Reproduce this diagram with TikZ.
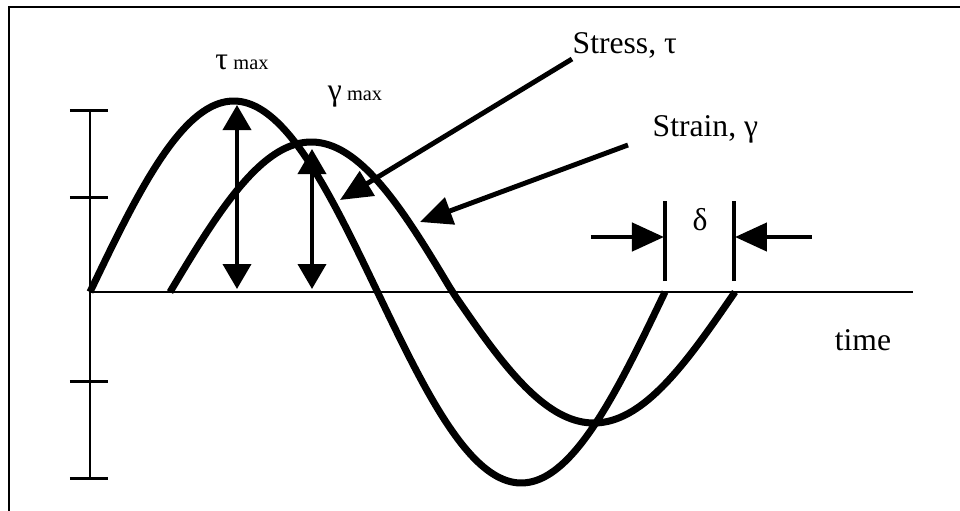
\documentclass[tikz,border=0pt]{standalone}
\usepackage{fontspec}
\setmainfont{Liberation Serif}
\usetikzlibrary{arrows.meta}
\begin{document}
\begin{tikzpicture}[
  axis/.style={draw=black,line width=0.7pt},
  wave/.style={draw=black,line width=2pt,line join=round},
  bar/.style={draw=black,line width=1.3pt},
  pointer/.style={draw=black,line width=1.4pt,-{Triangle[length=0.32cm,width=0.28cm]}},
  twoway/.style={draw=black,line width=1.1pt,{Triangle[length=0.25cm,width=0.28cm]}-{Triangle[length=0.25cm,width=0.28cm]}},
  label/.style={font=\fontsize{9}{11}\selectfont,inner sep=0pt},
]
\useasboundingbox (-0.9,-2.18) rectangle (8.7,2.92);
\draw[axis] (-0.81,-2.3)--(-0.81,2.85)--(8.8,2.85);
\draw[axis] (0,-1.86)--(0,1.82);
\foreach \y in {1.82,0.95,-0.89,-1.86}{\draw[axis,line width=0.85pt] (-0.2,\y)--(0.18,\y);}
\draw[axis] (0,0)--(8.23,0);
\draw[wave] plot[domain=0:360,samples=90,smooth] ({5.75*\x/360},{1.91*sin(\x)});
\draw[wave] plot[domain=0:360,samples=90,smooth] ({0.8+5.65*\x/360},{sin(\x)*(sin(\x)>0?1.5:1.31)});
\coordinate (taupeak) at (1.47,1.87);
\coordinate (taubase) at (1.47,0.03);
\coordinate (gampeak) at (2.22,1.43);
\coordinate (gambase) at (2.22,0.03);
\draw[twoway] (taubase)--(taupeak);
\draw[twoway] (gambase)--(gampeak);
\node[label] (taumax) at (1.52,2.30) {τ\,{\fontsize{5.8}{7}\selectfont max}};
\node[label] (gammax) at (2.65,1.95) {γ\,{\fontsize{5.8}{7}\selectfont max}};
\node[label,anchor=south west] (stress) at (4.82,2.33) {Stress, τ};
\node[label,anchor=south west] (strain) at (5.62,1.48) {Strain, γ};
\coordinate (stresstip) at (2.50,0.92);
\coordinate (straintip) at (3.30,0.70);
\draw[pointer] (stress.south west)--(stresstip);
\draw[pointer] ([xshift=-0.24cm,yshift=-0.01cm]strain.south west)--(straintip);
\draw[bar] (5.75,0.11)--(5.75,0.91);
\draw[bar] (6.44,0.11)--(6.44,0.91);
\coordinate (leftend) at (5.01,0.55);
\coordinate (leftstop) at (5.74,0.55);
\coordinate (rightend) at (7.22,0.55);
\coordinate (rightstop) at (6.45,0.55);
\draw[pointer,line width=1.3pt] (leftend)--(leftstop);
\draw[pointer,line width=1.3pt] (rightend)--(rightstop);
\node[label] (delta) at (6.10,0.72) {δ};
\node[label] (time) at (7.73,-0.48) {time};
\end{tikzpicture}
\end{document}
